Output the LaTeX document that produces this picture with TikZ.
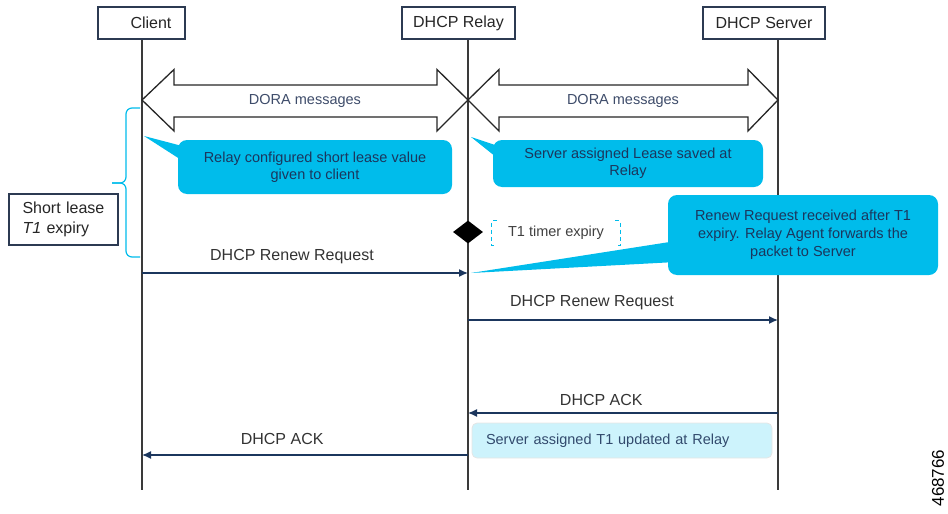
\documentclass[tikz,border=0pt]{standalone}
\usepackage{fontspec}
\setmainfont{Liberation Sans}
\usetikzlibrary{arrows.meta,shapes.geometric}
\pgfdeclarelayer{nodelayer}
\pgfdeclarelayer{edgelayer}
\pgfsetlayers{edgelayer,nodelayer,main}
\definecolor{ciscoblue}{HTML}{00BCEB}
\definecolor{paleblue}{HTML}{CDF3FC}
\definecolor{navy}{HTML}{1B365D}
\definecolor{slate}{HTML}{3E4C6A}
\definecolor{boxline}{HTML}{2C3A52}
\definecolor{lifegray}{HTML}{3A3A3A}
\tikzstyle{actor}=[fill=white, draw=boxline, line width=1.4pt, shape=rectangle, minimum height=32pt, inner sep=0pt, font=\fontsize{16}{19}\selectfont, text=black!85]
\tikzstyle{point}=[shape=coordinate]
\tikzstyle{callout}=[fill=ciscoblue, draw=none, rounded corners=9pt, shape=rectangle, inner sep=0pt, align=center, text=navy]
\tikzstyle{note}=[fill=paleblue, draw=black!10, line width=0.8pt, rounded corners=5pt, shape=rectangle, inner ysep=0pt, inner xsep=14pt, align=left, text=navy!90, font=\fontsize{14.5}{17}\selectfont]
\tikzstyle{side box}=[fill=white, draw=boxline, line width=1.2pt, shape=rectangle, inner xsep=13.5pt, align=left, text=black!85, font=\fontsize{16}{20}\selectfont]
\tikzstyle{life edge}=[draw=lifegray, line width=1.4pt]
\tikzstyle{msg edge}=[draw=navy, line width=1.4pt, -{Latex[length=9pt,width=8pt]}]
\tikzstyle{msg label}=[anchor=base, inner sep=0pt, font=\fontsize{16}{19}\selectfont, text=black!80]
\tikzstyle{dora edge}=[draw=black!85, line width=1.3pt, fill=white, line join=miter]
\tikzstyle{dora label}=[font=\fontsize{14.5}{17}\selectfont, text=slate]
\tikzstyle{bracket edge}=[draw=ciscoblue, line width=1.2pt, dash pattern=on 4pt off 3pt]

\begin{document}
\begin{tikzpicture}[x=1pt, y=-1pt]
	\useasboundingbox (0, 0) rectangle (948, 514);
	\begin{pgfonlayer}{nodelayer}
		% lifeline heads
		\node [style=actor, minimum width=87pt] (0) at (141.5, 23) {\hspace*{19pt}Client};
		\node [style=actor, minimum width=113pt] (1) at (458.5, 23) {DHCP Relay};
		\node [style=actor, minimum width=122pt] (2) at (764, 23) {DHCP Server};
		\node [style=point] (3) at (142, 490) {};
		\node [style=point] (4) at (468, 490) {};
		\node [style=point] (5) at (778, 490) {};
		% message ends
		\node [style=point] (6) at (142, 273) {};
		\node [style=point] (7) at (468, 273) {};
		\node [style=point] (8) at (468, 320) {};
		\node [style=point] (9) at (778, 320) {};
		\node [style=point] (10) at (778, 413) {};
		\node [style=point] (11) at (468, 413) {};
		\node [style=point] (12) at (468, 455) {};
		\node [style=point] (13) at (142, 455) {};
		% callouts
		\node [style=callout, minimum width=274pt, minimum height=54pt, font=\fontsize{14.5}{16.5}\selectfont] (14) at (315, 167) {Relay configured short lease value\\given to client};
		\node [style=callout, minimum width=270pt, minimum height=47pt, font=\fontsize{14.5}{17}\selectfont] (15) at (628, 163.5) {Server assigned Lease saved at\\Relay};
		\node [style=callout, minimum width=270pt, minimum height=80pt, font=\fontsize{14.5}{18}\selectfont] (16) at (803, 235) {Renew Request received after T1\\expiry. Relay Agent forwards the\\packet to Server};
		\node [style=point] (17) at (144, 136) {};
		\node [style=point] (18) at (471, 137) {};
		\node [style=point] (19) at (471, 273) {};
		% timer
		\node [fill=black, shape=diamond, inner sep=0pt, minimum width=30pt, minimum height=23pt] (20) at (468, 232) {};
		\node [minimum width=128pt, minimum height=24pt, inner sep=0pt, font=\fontsize{14.5}{17}\selectfont, text=black!75] (21) at (556, 233) {T1 timer expiry};
		\node [style=side box, text width=82pt, minimum height=51pt] (22) at (63.5, 219.5) {Short lease\\\textit{T1} expiry};
		\node [style=note, text width=272pt, minimum height=35pt] (23) at (622, 440.5) {Server assigned T1 updated at Relay};
		\node [rotate=90, font=\fontsize{17}{20}\selectfont] (24) at (938, 478) {468766};
	\end{pgfonlayer}
	\begin{pgfonlayer}{edgelayer}
		\draw [style=life edge] (0.south -| 3) to (3);
		\draw [style=life edge] (1.south -| 4) to (4);
		\draw [style=life edge] (2.south -| 5) to (5);
		% DORA exchange
		\draw [style=dora edge] (142, 100) -- (174, 69.5) -- (174, 85) -- (437, 85) -- (437, 69.5) -- (468, 100) -- (437, 131) -- (437, 117) -- (174, 117) -- (174, 131) -- cycle;
		\draw [style=dora edge] (468, 100) -- (499, 69.5) -- (499, 85) -- (748, 85) -- (748, 69.5) -- (778, 100) -- (748, 131) -- (748, 117) -- (499, 117) -- (499, 131) -- cycle;
		\node [style=dora label] at (305, 101) {DORA messages};
		\node [style=dora label] at (623, 101) {DORA messages};
		% callout pointers
		\fill [ciscoblue] (17) -- (186, 147) -- (186, 163) -- cycle;
		\fill [ciscoblue] (18) -- (501, 147) -- (501, 161) -- cycle;
		\fill [ciscoblue] (19) -- (676, 241) -- (676, 262) -- cycle;
		% brace for the short lease
		\draw [draw=ciscoblue, line width=1.2pt, rounded corners=6pt] (140, 108) -- (126, 108) -- (126, 183) -- (112, 183);
		\draw [draw=ciscoblue, line width=1.2pt, rounded corners=6pt] (140, 257) -- (126, 257) -- (126, 183) -- (112, 183);
		\draw [style=bracket edge] ([xshift=5pt]21.north west) -- (21.north west) -- (21.south west) -- ([xshift=5pt]21.south west);
		\draw [style=bracket edge] ([xshift=-5pt]21.north east) -- (21.north east) -- (21.south east) -- ([xshift=-5pt]21.south east);
		% messages
		\draw [style=msg edge] (6) to node [style=msg label, pos=0.46, yshift=13pt] {DHCP Renew Request} (7);
		\draw [style=msg edge] (8) to node [style=msg label, pos=0.40, yshift=13.3pt] {DHCP Renew Request} (9);
		\draw [style=msg edge] (10) to node [style=msg label, pos=0.57, yshift=7.7pt] {DHCP ACK} (11);
		\draw [style=msg edge] (12) to node [style=msg label, pos=0.57, yshift=10.7pt] {DHCP ACK} (13);
	\end{pgfonlayer}
\end{tikzpicture}
\end{document}
